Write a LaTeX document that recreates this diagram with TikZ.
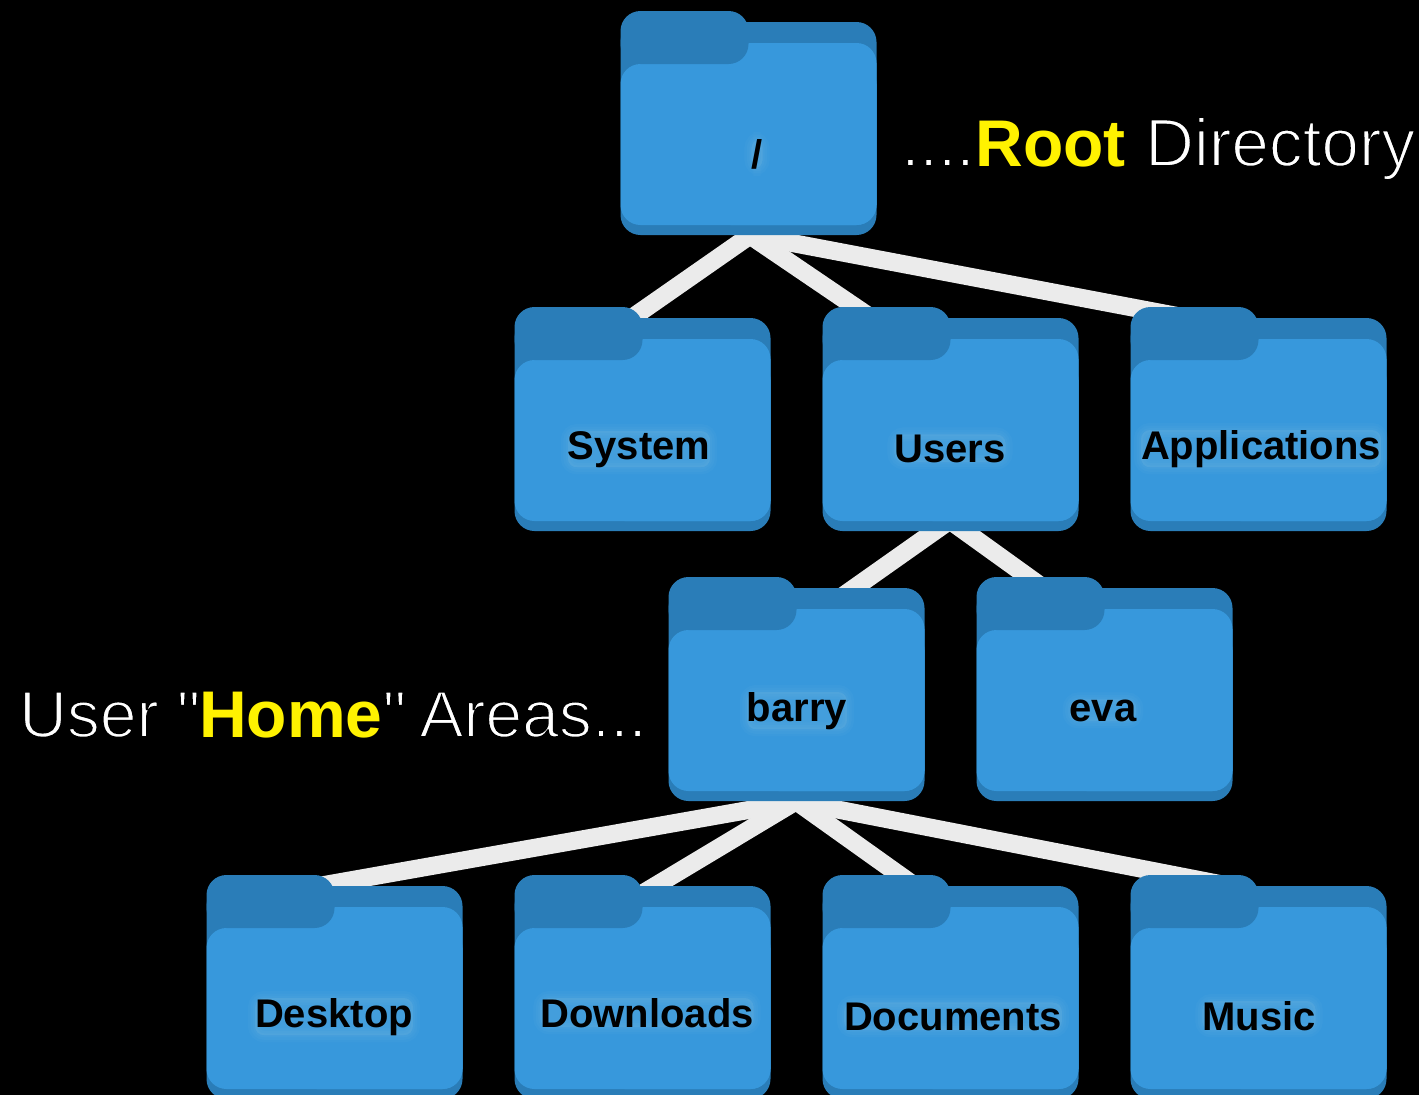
\documentclass[tikz,border=0pt]{standalone}
\usepackage{fontspec}
\setmainfont{Liberation Sans}
\newfontfamily\capfont{Liberation Sans}
\usetikzlibrary{calc}
\definecolor{folderfront}{HTML}{3798DC}
\definecolor{folderback}{HTML}{2A7DB8}
\definecolor{linkgrey}{HTML}{EBEBEB}
% thin the regular weight: fill white, stroke the outline in the black background
\newcommand{\lighter}[1]{\special{pdf:code q 2 Tr 0 0 0 RG 1.8 w}#1\special{pdf:code Q}}
\newcommand{\drawfolder}[2]{%
  \begin{scope}[shift={(#1,#2)}]
    \fill[folderback,rounded corners=20] (0,11) rectangle (256,224);
    \fill[folderfront,rounded corners=20] (0,53) rectangle (256,214);
    \fill[folderfront,rounded corners=20] (90,32) rectangle (256,214);
    \fill[folderback,rounded corners=20] (0,0) rectangle (128,53);
  \end{scope}}
\tikzset{
  folderbox/.style={rectangle,inner sep=0pt,outer sep=0pt,minimum width=256pt,minimum height=224pt},
  link/.style={draw=linkgrey,line width=18pt},
  namelabel/.style={anchor=base,inner sep=0pt,text=black,
    font=\fontsize{40}{40}\selectfont\bfseries,rounded corners=9pt,
    preaction={fill=white,fill opacity=.025,draw=white,draw opacity=.025,line width=14pt},
    preaction={fill=white,fill opacity=.025,draw=white,draw opacity=.025,line width=9pt},
    preaction={fill=white,fill opacity=.025,draw=white,draw opacity=.025,line width=4pt}},
  bigtext/.style={anchor=base west,inner sep=0pt,text=white,font=\capfont\fontsize{66}{66}\selectfont}
}
\begin{document}
\begin{tikzpicture}[x=1pt,y=-1pt]
\useasboundingbox (0,0) rectangle (1419,1095);
\fill[black] (0,0) rectangle (1419,1095);
% folder outlines, named so the connectors can refer to them
\node[folderbox] (root) at (748.5,123) {};
\node[folderbox] (system) at (642.5,419) {};
\node[folderbox] (users) at (950.5,419) {};
\node[folderbox] (apps) at (1258.5,419) {};
\node[folderbox] (barry) at (796.5,689) {};
\node[folderbox] (eva) at (1104.5,689) {};
\node[folderbox] (desktop) at (334.5,987) {};
\node[folderbox] (downloads) at (642.5,987) {};
\node[folderbox] (documents) at (950.5,987) {};
\node[folderbox] (music) at (1258.5,987) {};
% connectors (their ends run on behind the folders)
\draw[link] ($(root.south)+(1.5,0.5)$) -- ($(system.north)+(-18,16)$);
\draw[link] ($(root.south)+(1.5,0.5)$) -- ($(users.north)+(-80.5,10)$);
\draw[link] ($(root.south)+(1.5,0)$) -- ($(apps.north)+(-28.5,19)$);
\draw[link] ($(users.south)+(0,-11)$) -- ($(barry.north)+(43.5,21)$);
\draw[link] ($(users.south)+(0,-10)$) -- ($(eva.north)+(-59.5,12)$);
\draw[link] ($(barry.south)+(0,0.5)$) -- ($(desktop.north)+(-24.5,12.5)$);
\draw[link] ($(barry.south)+(0,0)$) -- ($(downloads.north)+(-2.5,20)$);
\draw[link] ($(barry.south)+(0,0.5)$) -- ($(documents.north)+(-35.5,11)$);
\draw[link] ($(barry.south)+(0,0.5)$) -- ($(music.north)+(-33.5,10)$);
% folders
\drawfolder{620.5}{11}
\drawfolder{514.5}{307}
\drawfolder{822.5}{307}
\drawfolder{1130.5}{307}
\drawfolder{668.5}{577}
\drawfolder{976.5}{577}
\drawfolder{206.5}{875}
\drawfolder{514.5}{875}
\drawfolder{822.5}{875}
\drawfolder{1130.5}{875}
% folder names
\node[namelabel] (lroot) at (757,168) {/};
\node[namelabel] (lsystem) at (639,459) {System};
\node[namelabel] (lusers) at (950,462) {Users};
\node[namelabel] (lapps) at (1261,459) {Applications};
\node[namelabel] (lbarry) at (797,721) {barry};
\node[namelabel] (leva) at (1103,721) {eva};
\node[namelabel] (ldesktop) at (334,1027) {Desktop};
\node[namelabel] (ldownloads) at (647,1027) {Downloads};
\node[namelabel] (ldocuments) at (953,1030) {Documents};
\node[namelabel] (lmusic) at (1259,1030) {Music};
% captions
\node[bigtext] (rootcaption) at (901,166) {\lighter{....}\hspace{1pt}\textcolor{yellow}{\textbf{Root}} \hspace{1pt}\lighter{\fontsize{67.5}{67.5}\selectfont Directory}};
\node[bigtext] (homecaption) at (19,737) {\lighter{User "}\hspace{-1pt}\textcolor{yellow}{\textbf{Home}}\lighter{"\hspace{-5pt} Areas...}};
\end{tikzpicture}
\end{document}
